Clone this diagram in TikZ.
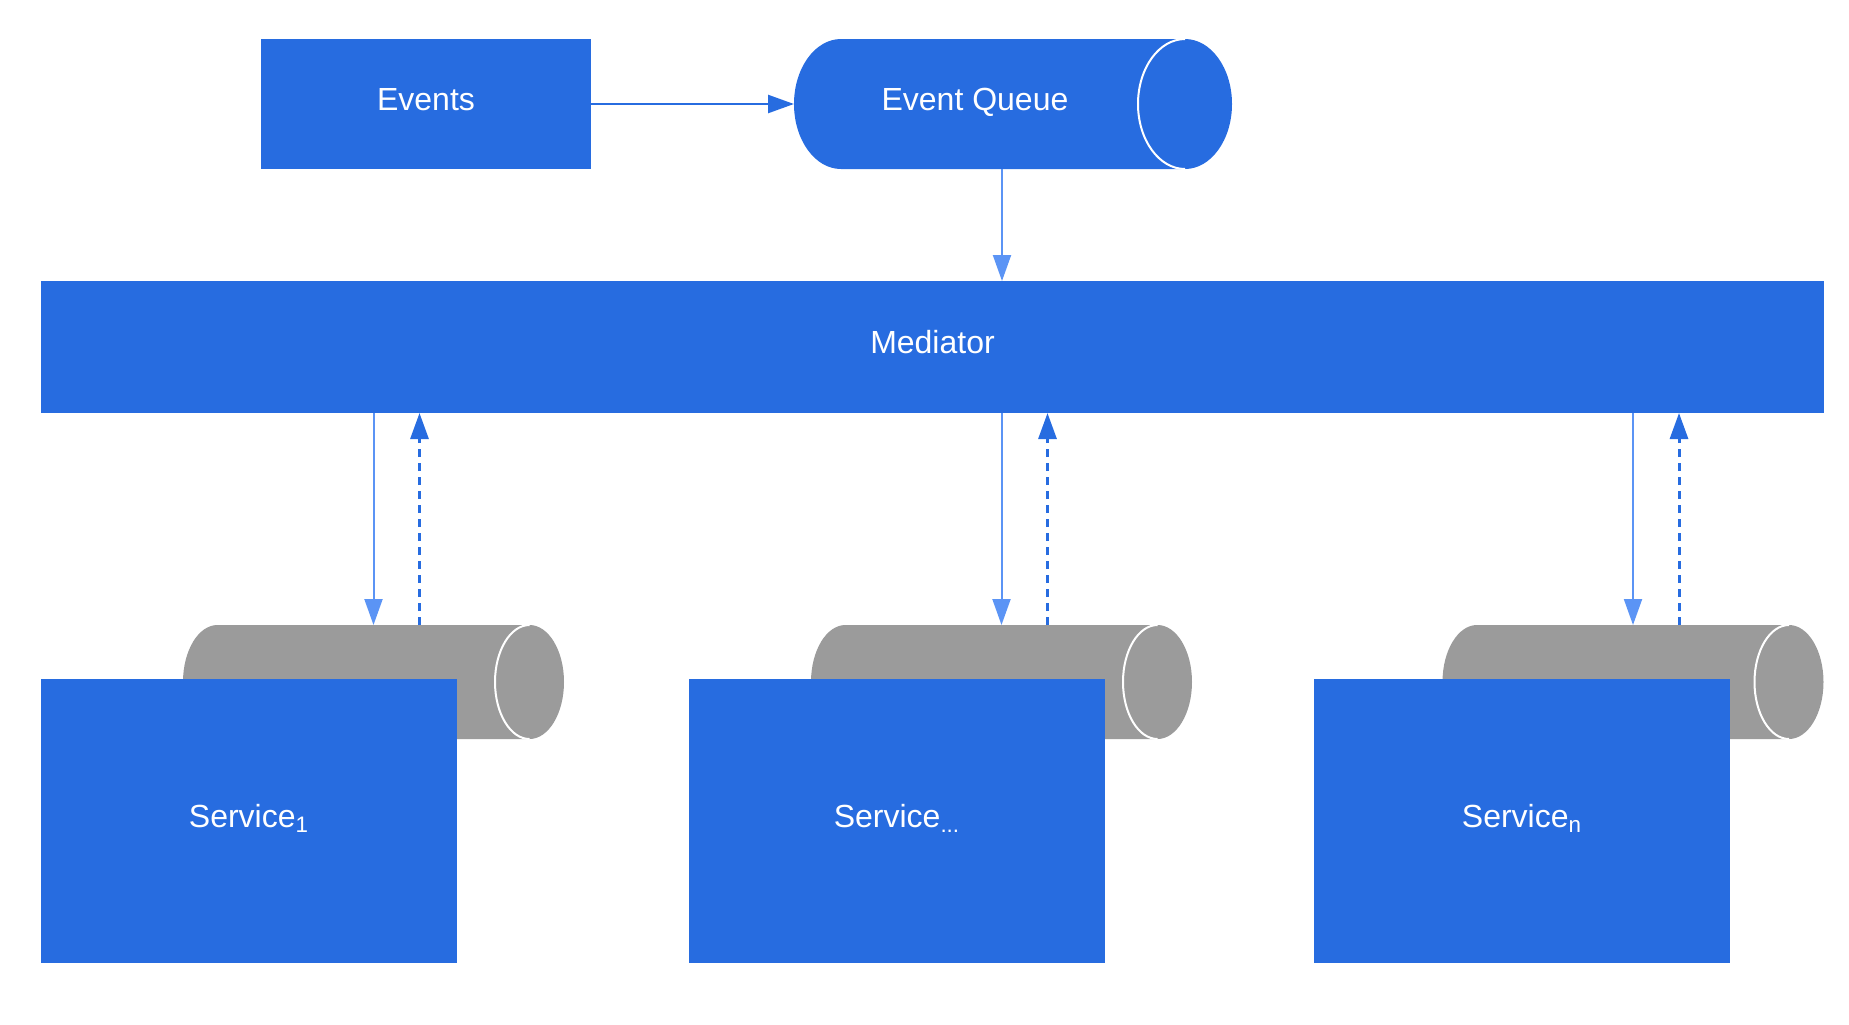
\documentclass[tikz,border=0pt]{standalone}
\usepackage{fontspec}
\setmainfont{Liberation Sans}
\usetikzlibrary{positioning,arrows.meta}
\definecolor{boxblue}{HTML}{276CE0}
\definecolor{lineblue}{HTML}{5B94F5}
\definecolor{pipegray}{HTML}{9B9B9B}
\newcommand{\svcdots}{...}

\begin{document}
\begin{tikzpicture}[x=0.5pt, y=-0.5pt]
\tikzstyle{tStyle}=[shape = rectangle, text=white, inner sep=0pt, outer sep=0pt,
text height=10pt, text depth=3.5pt, font=\fontsize{16}{19}\selectfont]
\tikzstyle{bStyle}=[tStyle, fill=boxblue]
\tikzset{pStyle/.style n args={3}{shape = rectangle, inner sep=0pt, outer sep=0pt,
path picture={
	\fill[#1] ([xshift=#2]path picture bounding box.north west)
		arc[start angle=90, end angle=270, x radius=#2, y radius=#3]
		-- ([xshift=-#2]path picture bounding box.south east)
		arc[start angle=-90, end angle=90, x radius=#2, y radius=#3] -- cycle;
	\draw[white, line width=1pt] ([xshift=-#2]path picture bounding box.north east)
		arc[start angle=90, end angle=270, x radius=#2, y radius=#3];
}}}
\tikzstyle{aStyle}=[-{Triangle[length=13pt, width=9pt]}, line width=1pt, lineblue]
\tikzstyle{dStyle}=[aStyle, boxblue, line width=1.5pt, dash pattern=on 4pt off 3pt]

\useasboundingbox (0,0) rectangle (1849,1024);

\node[bStyle, minimum width=165pt, minimum height=65pt] (ev) at (426,104) {Events};
\node[pStyle={boxblue}{23.5pt}{32.5pt}, minimum width=219pt, minimum height=65pt] (q) at (1013,104) {};
\node[tStyle] (qlab) at ([xshift=-19pt]q.center) {Event Queue};
\node[bStyle, minimum width=891.5pt, minimum height=66pt] (med) at (932.5,347) {Mediator};

\draw[aStyle, boxblue, line width=1.25pt] (ev.east) -- (q.west);
\draw[aStyle] ([xshift=-5.5pt]q.south) -- ([xshift=-5.5pt]q.south |- med.north);

\foreach \i/\x/\sx/\lab in {1/373.5/249/1, 2/1001.5/897/\svcdots, 3/1633/1522/n}
{
	\node[pStyle={pipegray}{17.25pt}{28.5pt}, minimum width=190.5pt, minimum height=57pt] (p\i) at (\x,682) {};
	\node[bStyle, minimum width=208pt, minimum height=142pt] (s\i) at (\sx,821) {Service\textsubscript{\lab}};
	\draw[aStyle] (med.south -| p\i.north) -- (p\i.north);
	\draw[dStyle] ([xshift=23pt]p\i.north) -- ([xshift=23pt]p\i.north |- med.south);
}
\end{tikzpicture}
\end{document}
